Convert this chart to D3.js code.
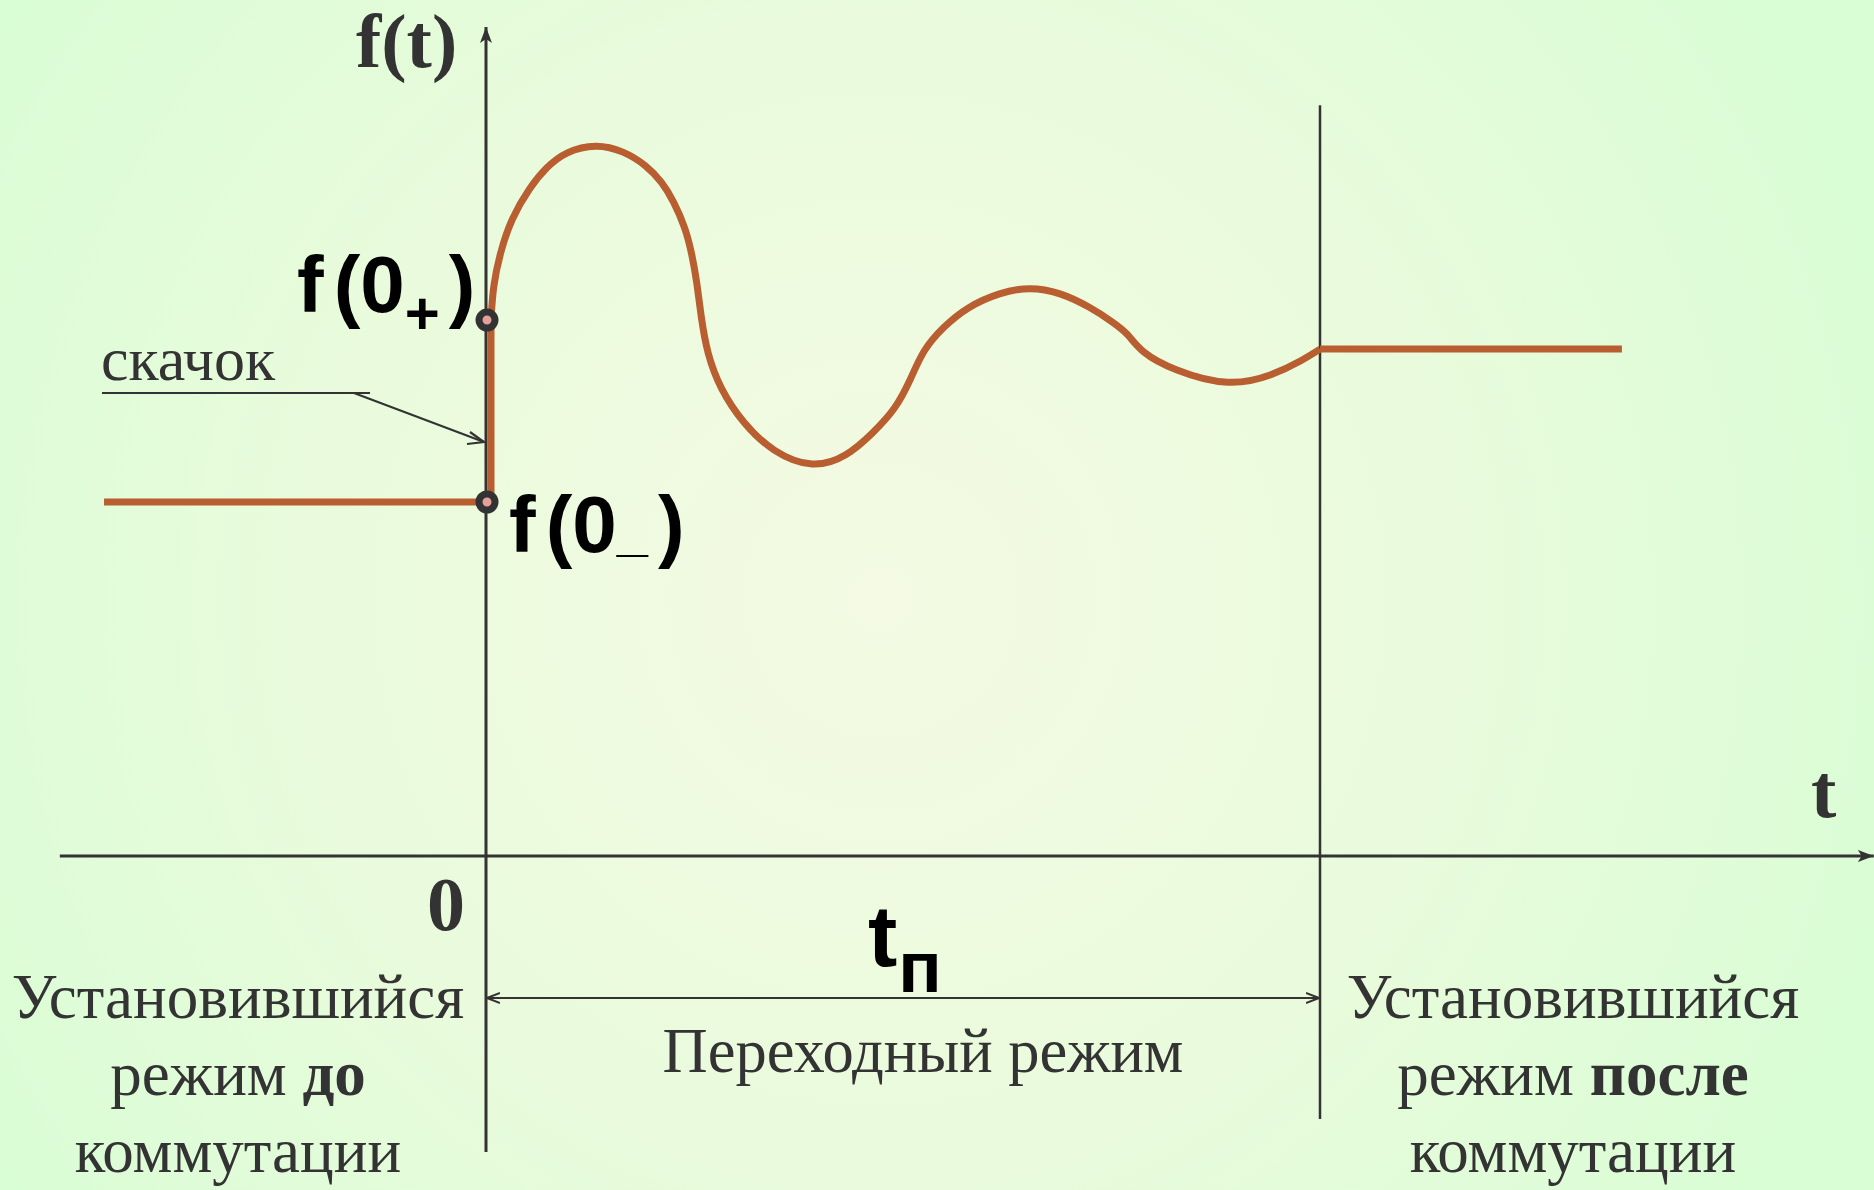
<!DOCTYPE html>
<html><head><meta charset="utf-8">
<script src="https://cdn.jsdelivr.net/npm/d3@7"></script>
<style>html,body{margin:0;padding:0;overflow:hidden;background:#e4fbd9}</style>
</head><body>
<script>
// ---------- data ----------
// steady state before commutation (t < 0), value f(0-) = 1
const beforeT = [-0.458, 0.006];
const beforeF = [1.0, 1.0];
// jump at t = 0 : f(0-) -> f(0+)
const jumpT = [0.006, 0.006];
const jumpF = [1.0, 1.514];
// transient process 0 .. tп
const transientT = [0.006, 0.006, 0.0084, 0.0168, 0.0300, 0.0528, 0.0720, 0.0955, 0.1319, 0.1650, 0.1930,
  0.2110, 0.2250, 0.2390, 0.2470, 0.2530, 0.2580, 0.2650, 0.2806, 0.3082, 0.3441, 0.3921, 0.4329,
  0.4640, 0.4910, 0.5090, 0.5240, 0.5480, 0.5767, 0.6163, 0.6523, 0.6882, 0.7242, 0.7518, 0.7698,
  0.7842, 0.8237, 0.8921, 0.9436, 0.9796, 1.0, 1.0];
const transientF = [1.514, 1.514, 1.610, 1.703, 1.800, 1.890, 1.945, 1.990, 2.012, 1.992, 1.950,
  1.904, 1.850, 1.775, 1.700, 1.620, 1.520, 1.421, 1.320, 1.222, 1.140, 1.094, 1.128,
  1.195, 1.262, 1.345, 1.430, 1.494, 1.551, 1.592, 1.608, 1.592, 1.551, 1.508, 1.476,
  1.425, 1.372, 1.325, 1.358, 1.401, 1.432, 1.432];
// steady state after commutation
const afterT = [1.0, 1.362];
const afterF = [1.432, 1.432];
// marked points f(0+) and f(0-)
const pointT = [0, 0];
const pointF = [1.514, 1.0];
// axis extents
const tAxisRange = [-0.511, 1.664];
const fAxisRange = [-0.836, 2.342];
const tpBoundaryF = [-0.743, 2.121];
const tpArrowF = -0.401;
const tickLabels = ["0"];
const axisLabels = ["f(t)", "t"];
const regionLabels = [
  ["Установившийся", "режим ", "до", "коммутации"],
  ["Переходный режим"],
  ["Установившийся", "режим ", "после", "коммутации"]
];

// ---------- drawing ----------
const W = 1874, H = 1190;
const x = d3.scaleLinear().domain([0, 1]).range([486, 1320]);
const y = d3.scaleLinear().domain([0, 1]).range([856, 502]);
const AX = "#333333", CURVE = "#b85e30";

const svg = d3.select("body").append("svg").attr("width", W).attr("height", H);
const defs = svg.append("defs");
const rg = defs.append("radialGradient").attr("id", "bg").attr("gradientUnits", "userSpaceOnUse")
  .attr("cx", 880).attr("cy", 600).attr("r", 1050);
rg.append("stop").attr("offset", 0).attr("stop-color", "#f4fae3");
rg.append("stop").attr("offset", 0.55).attr("stop-color", "#e9fbdc");
rg.append("stop").attr("offset", 1).attr("stop-color", "#d9fdd5");
svg.append("rect").attr("width", W).attr("height", H).attr("fill", "url(#bg)");

defs.append("marker").attr("id", "stealth").attr("viewBox", "0 0 16 12")
  .attr("markerWidth", 16).attr("markerHeight", 12).attr("refX", 16).attr("refY", 6)
  .attr("markerUnits", "userSpaceOnUse").attr("orient", "auto")
  .append("path").attr("d", "M0,0 L16,6 L0,12 L4,6 Z").attr("fill", AX);
defs.append("marker").attr("id", "vee").attr("viewBox", "0 0 14 12")
  .attr("markerWidth", 14).attr("markerHeight", 12).attr("refX", 13).attr("refY", 6)
  .attr("markerUnits", "userSpaceOnUse").attr("orient", "auto-start-reverse")
  .append("path").attr("d", "M0,1 L13,6 L0,11").attr("fill", "none").attr("stroke", AX).attr("stroke-width", 2);

// axes
svg.append("line").attr("x1", x(tAxisRange[0])).attr("x2", x(tAxisRange[1]))
  .attr("y1", y(0)).attr("y2", y(0)).attr("stroke", AX).attr("stroke-width", 3)
  .attr("marker-end", "url(#stealth)");
svg.append("line").attr("x1", x(0)).attr("x2", x(0))
  .attr("y1", y(fAxisRange[0])).attr("y2", y(fAxisRange[1])).attr("stroke", AX).attr("stroke-width", 3)
  .attr("marker-end", "url(#stealth)");
// boundary of transient (t = tп)
svg.append("line").attr("x1", x(1)).attr("x2", x(1))
  .attr("y1", y(tpBoundaryF[0])).attr("y2", y(tpBoundaryF[1])).attr("stroke", AX).attr("stroke-width", 2.5);
// tп double arrow
svg.append("line").attr("x1", x(0) + 1).attr("x2", x(1) - 1)
  .attr("y1", y(tpArrowF)).attr("y2", y(tpArrowF)).attr("stroke", AX).attr("stroke-width", 2)
  .attr("marker-start", "url(#vee)").attr("marker-end", "url(#vee)");

// curve
const lin = d3.line().x(d => x(d[0])).y(d => y(d[1]));
const smooth = d3.line().x(d => x(d[0])).y(d => y(d[1])).curve(d3.curveBasis);
const zip = (a, b) => a.map((v, i) => [v, b[i]]);
const cg = svg.append("g").attr("fill", "none").attr("stroke", CURVE).attr("stroke-width", 7);
cg.append("path").attr("d", lin(zip(beforeT, beforeF)));
cg.append("path").attr("d", lin(zip(jumpT, jumpF))).attr("stroke-linecap", "butt");
cg.append("path").attr("d", smooth(zip(transientT, transientF)));
cg.append("path").attr("d", lin(zip(afterT, afterF)));

// "скачок" pointer
svg.append("path").attr("d", `M102,393 L370,393 M354,393 L${x(0) - 2},442`)
  .attr("fill", "none").attr("stroke", AX).attr("stroke-width", 2.2);
svg.append("path").attr("d", `M${x(0)-16},432 L${x(0)-2},442 L${x(0)-19},444`)
  .attr("fill", "none").attr("stroke", AX).attr("stroke-width", 2.2);

// points
svg.selectAll("circle.pt").data(zip(pointT, pointF)).enter().append("circle")
  .attr("cx", d => x(d[0]) + 1).attr("cy", d => y(d[1])).attr("r", 8)
  .attr("fill", "#e6a09c").attr("stroke", AX).attr("stroke-width", 7);

// labels
const serif = "'Liberation Serif','Times New Roman',serif";
const sans = "'Liberation Sans',Arial,sans-serif";
svg.append("text").attr("x", 356).attr("y", 67).attr("font-family", serif).attr("font-weight", "bold")
  .attr("font-size", 76).attr("fill", AX).text(axisLabels[0]);
svg.append("text").attr("x", 1811).attr("y", 817).attr("font-family", serif).attr("font-weight", "bold")
  .attr("font-size", 76).attr("fill", AX).text(axisLabels[1]);
svg.append("text").attr("x", 446).attr("y", 930).attr("text-anchor", "middle").attr("font-family", serif)
  .attr("font-weight", "bold").attr("font-size", 76).attr("fill", AX).text(tickLabels[0]);

// f(0+)
const fp = svg.append("text").attr("x", 297).attr("y", 312).attr("font-family", sans)
  .attr("font-weight", "bold").attr("font-size", 80).attr("fill", "#000");
fp.append("tspan").text("f");
fp.append("tspan").attr("dx", 10).text("(0");
fp.append("tspan").attr("font-size", 60).attr("dy", 22).attr("dx", 0).text("+");
fp.append("tspan").attr("dy", -22).attr("dx", 9).text(")");
// f(0-)
const fm = svg.append("text").attr("x", 509).attr("y", 552).attr("font-family", sans)
  .attr("font-weight", "bold").attr("font-size", 80).attr("fill", "#000");
fm.append("tspan").text("f");
fm.append("tspan").attr("dx", 10).text("(0");
fm.append("tspan").attr("font-size", 56).attr("dy", -2).text("_");
fm.append("tspan").attr("dy", 2).attr("dx", 10).text(")");

// скачок
svg.append("text").attr("x", 101).attr("y", 380).attr("font-family", serif).attr("font-size", 62)
  .attr("fill", AX).text("скачок");

// tп
const tp = svg.append("text").attr("x", 868).attr("y", 966).attr("font-family", sans)
  .attr("font-weight", "bold").attr("font-size", 88).attr("fill", "#000");
tp.append("tspan").text("t");
tp.append("tspan").attr("font-size", 72).attr("dy", 26).attr("dx", 1).text("п");

// region labels
function block(cx, lines) {
  const g = svg.append("g").attr("font-family", serif).attr("font-size", 63).attr("fill", AX)
    .attr("text-anchor", "middle");
  g.append("text").attr("x", cx).attr("y", 1018).text(lines[0]);
  const t2 = g.append("text").attr("x", cx).attr("y", 1095);
  t2.append("tspan").text(lines[1]);
  t2.append("tspan").attr("font-weight", "bold").text(lines[2]);
  g.append("text").attr("x", cx).attr("y", 1172).text(lines[3]);
}
block(238, regionLabels[0]);
block(1573, regionLabels[2]);
svg.append("text").attr("x", 923).attr("y", 1072).attr("text-anchor", "middle").attr("font-family", serif)
  .attr("font-size", 62.5).attr("fill", AX).text(regionLabels[1][0]);
</script>
</body></html>
